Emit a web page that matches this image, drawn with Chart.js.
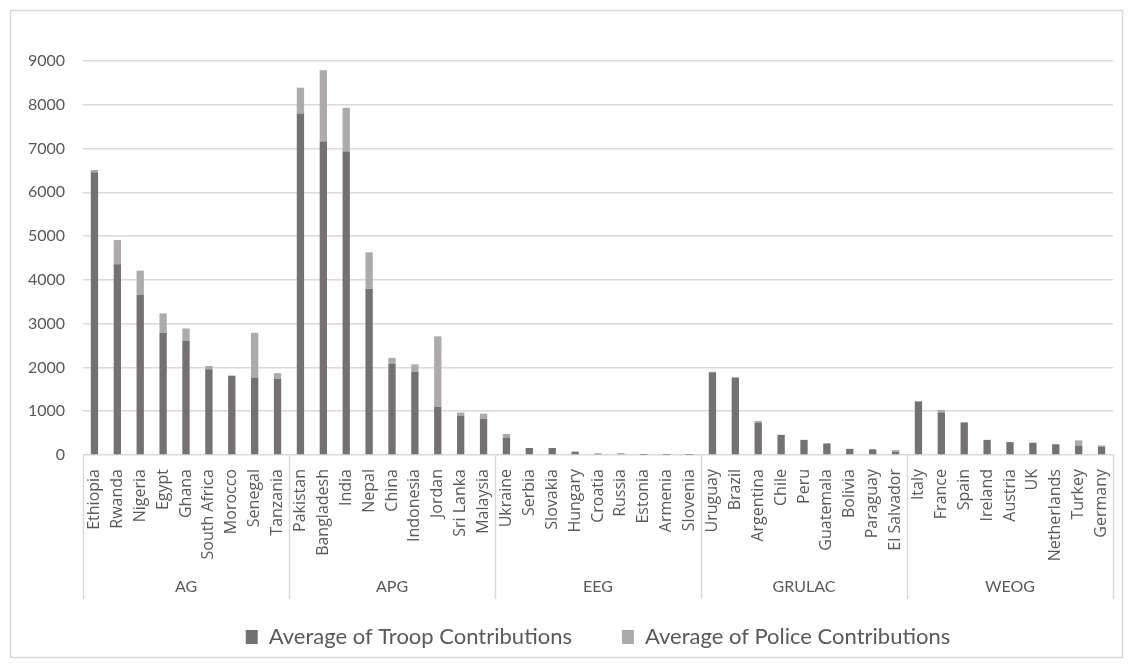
<!DOCTYPE html>
<html lang="en">
<head>
  <meta charset="UTF-8" />
  <title>Average Troop and Police Contributions</title>
  <style>
    body {
      margin: 0;
      background: #ffffff;
    }
    #wrap {
      position: relative;
      width: 1133px;
      height: 668px;
    }
  </style>
</head>
<body>
  <div id="wrap"><canvas id="chart"></canvas></div>

  <script src="https://cdn.jsdelivr.net/npm/chart.js"></script>
  <script>
    const countries = [
      "Ethiopia", "Rwanda", "Nigeria", "Egypt", "Ghana", "South Africa", "Morocco", "Senegal", "Tanzania",
      "Pakistan", "Bangladesh", "India", "Nepal", "China", "Indonesia", "Jordan", "Sri Lanka", "Malaysia",
      "Ukraine", "Serbia", "Slovakia", "Hungary", "Croatia", "Russia", "Estonia", "Armenia", "Slovenia",
      "Uruguay", "Brazil", "Argentina", "Chile", "Peru", "Guatemala", "Bolivia", "Paraguay", "El Salvador",
      "Italy", "France", "Spain", "Ireland", "Austria", "UK", "Netherlands", "Turkey", "Germany"
    ];
    const groups = ["AG", "APG", "EEG", "GRULAC", "WEOG"];
    const groupSizes = [9, 9, 9, 9, 9];

    const troops = [
      6460, 4360, 3660, 2790, 2610, 1960, 1810, 1770, 1740,
      7800, 7160, 6930, 3800, 2090, 1900, 1100, 900, 830,
      400, 160, 160, 75, 30, 20, 5, 3, 3,
      1890, 1760, 740, 460, 345, 265, 140, 130, 75,
      1225, 975, 745, 345, 295, 280, 245, 215, 190
    ];
    const police = [
      50, 550, 550, 445, 280, 75, 5, 1020, 130,
      590, 1630, 1000, 830, 130, 170, 1610, 70, 115,
      80, 0, 0, 5, 10, 25, 15, 0, 0,
      10, 20, 40, 0, 0, 0, 0, 0, 40,
      0, 55, 0, 0, 0, 0, 0, 120, 30
    ];
    const yMax = 9000;
    const yStep = 1000;

    const textColor = "#595959";
    const lineColor = "#d9d9d9";

    Chart.defaults.font.family = "Lato, 'Open Sans', sans-serif";
    Chart.defaults.color = textColor;

    // frame round the chart + group row under the country labels
    const groupAxis = {
      id: "groupAxis",
      beforeDraw(chart) {
        const ctx = chart.ctx;
        ctx.save();
        ctx.strokeStyle = lineColor;
        ctx.lineWidth = 1.5;
        ctx.strokeRect(10.5, 10.5, 1112, 647);
        ctx.restore();
      },
      afterDraw(chart) {
        const ctx = chart.ctx;
        const xs = chart.scales.x;
        const top = chart.chartArea.bottom;
        const bottom = top + 144;
        ctx.save();
        ctx.strokeStyle = lineColor;
        ctx.lineWidth = 1.5;
        ctx.fillStyle = textColor;
        ctx.font = "16px Lato";
        ctx.textAlign = "center";
        ctx.textBaseline = "middle";
        let start = 0;
        groups.forEach((g, i) => {
          const end = start + groupSizes[i];
          const x0 = xs.getPixelForValue(start - 0.5);
          const x1 = xs.getPixelForValue(end - 0.5);
          ctx.beginPath();
          ctx.moveTo(Math.round(x0) + 0.5, top);
          ctx.lineTo(Math.round(x0) + 0.5, bottom);
          ctx.stroke();
          if (i === groups.length - 1) {
            ctx.beginPath();
            ctx.moveTo(Math.round(x1) + 0.5, top);
            ctx.lineTo(Math.round(x1) + 0.5, bottom);
            ctx.stroke();
          }
          ctx.fillText(g, (x0 + x1) / 2, top + 132);
          start = end;
        });
        ctx.restore();
      }
    };

    new Chart(document.getElementById("chart"), {
      type: "bar",
      data: {
        labels: countries,
        datasets: [
          {
            label: "Average of Troop Contributions",
            data: troops,
            backgroundColor: "#767171",
            barPercentage: 0.4,
            categoryPercentage: 0.8
          },
          {
            label: "Average of Police Contributions",
            data: police,
            backgroundColor: "#aeaaaa",
            barPercentage: 0.4,
            categoryPercentage: 0.8
          }
        ]
      },
      options: {
        responsive: true,
        maintainAspectRatio: false,
        animation: false,
        layout: {
          padding: { top: 61, right: 20, left: 0, bottom: 10 }
        },
        plugins: {
          tooltip: { enabled: false },
          legend: {
            position: "bottom",
            fullSize: false,
            maxHeight: 90,
            labels: {
              boxWidth: 12,
              boxHeight: 14,
              padding: 50,
              color: textColor,
              font: { size: 22 }
            }
          }
        },
        scales: {
          x: {
            stacked: true,
            grid: { display: false },
            border: { display: false },
            ticks: {
              autoSkip: false,
              maxRotation: 90,
              minRotation: 90,
              padding: 6,
              color: textColor,
              font: { family: "'Open Sans', sans-serif", size: 16 }
            },
            afterFit(scale) {
              scale.height = 121;
            }
          },
          y: {
            stacked: true,
            min: 0,
            max: yMax,
            grid: {
              color: lineColor,
              lineWidth: 1.5,
              drawTicks: false
            },
            border: { display: false },
            ticks: {
              stepSize: yStep,
              padding: 18,
              color: textColor,
              font: { size: 16 },
              callback: v => String(v)
            },
            afterFit(scale) {
              scale.width = 83;
            }
          }
        }
      },
      plugins: [groupAxis]
    });
  </script>
</body>
</html>
